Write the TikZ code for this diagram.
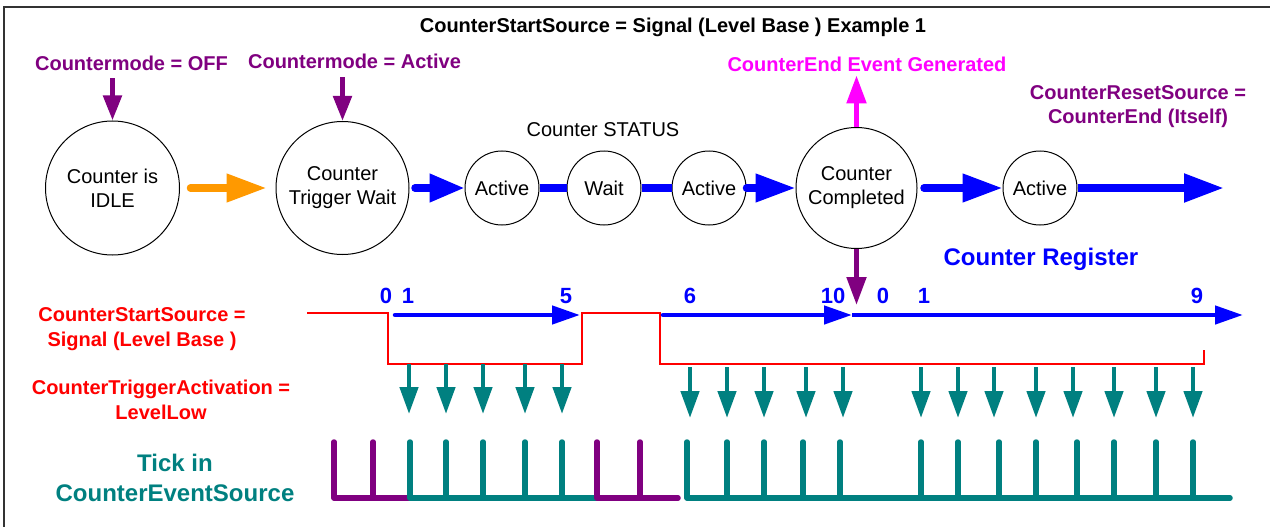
\documentclass[tikz,border=0pt]{standalone}
\usepackage{fontspec}
\setmainfont{Liberation Sans}
\usetikzlibrary{arrows.meta}
\definecolor{cpurple}{HTML}{800080}
\definecolor{cmagenta}{HTML}{FF00FF}
\definecolor{corange}{HTML}{FF9900}
\definecolor{cblue}{HTML}{0000FF}
\definecolor{cteal}{HTML}{008080}
\definecolor{cred}{HTML}{FF0000}
\begin{document}
\begin{tikzpicture}[x=1pt,y=-1pt,
  lbl/.style={font=\fontsize{20}{24.5}\selectfont\bfseries, inner sep=0pt, align=center},
  num/.style={font=\fontsize{22}{24}\selectfont\bfseries, inner sep=0pt, text=cblue, anchor=base},
  state/.style={circle, draw=black, line width=1pt, inner sep=0pt, align=center,
    font=\fontsize{20}{24}\selectfont},
  bigarrow/.style={line width=7.5pt, line cap=round, -{Triangle[length=40pt,width=27pt]}},
  bigline/.style={line width=7.5pt},
  parrow/.style={cpurple, line width=5pt, -{Triangle[length=25pt,width=18pt]}},
  marrow/.style={cmagenta, line width=5pt, -{Triangle[length=28pt,width=19pt]}},
  carrow/.style={cblue, line width=4.5pt, line cap=round, -{Triangle[length=28pt,width=18pt]}},
  tarrow/.style={cteal, line width=4.5pt, -{Triangle[length=27pt,width=18pt]}},
  tick/.style={line width=5.5pt, line cap=round, line join=round},
  sig/.style={cred, line width=2pt}
]
\useasboundingbox (0,0) rectangle (1270,527);
\fill[white] (0,0) rectangle (1270,527);
\draw[black!80, line width=1.3pt] (4,540) -- (4,7) -- (1290,7);

% title
\node[lbl, anchor=base] (title) at (673,33) {CounterStartSource = Signal (Level Base ) Example 1};

% states
\node[state, minimum size=134pt] (idle) at (112.5,188) {Counter is\\IDLE};
\node[state, minimum size=133pt] (tw) at (342.5,188) {Counter\\Trigger Wait};
\node[state, minimum size=74pt] (a1) at (502,188) {Active};
\node[state, minimum size=74pt] (w) at (604,188) {Wait};
\node[state, minimum size=74pt] (a2) at (709,188) {Active};
\node[state, minimum size=121pt] (cc) at (856.5,188) {Counter\\Completed};
\node[state, minimum size=74pt] (a3) at (1040,188) {Active};
\coordinate (endA) at (1224,188);

\node[font=\fontsize{20}{24}\selectfont, inner sep=0pt, anchor=base] (status) at (603,136) {Counter STATUS};

% connectors between states
\draw[bigarrow, corange, shorten <=10.5pt, shorten >=9pt] (idle) -- (tw);
\draw[bigarrow, cblue, -{Triangle[length=35pt,width=27pt]}, shorten <=5.5pt] (tw) -- (a1);
\draw[bigline, cblue] (a1) -- (w);
\draw[bigline, cblue] (w) -- (a2);
\draw[bigarrow, cblue] (a2) -- (cc);
\draw[bigarrow, cblue, shorten <=6.5pt] (cc) -- (a3);
\draw[bigarrow, cblue, line width=8pt, line cap=butt] (a3) -- (endA);

% top labels and arrows
\node[lbl, text=cpurple, anchor=base] (cmoff) at (131.5,71) {Countermode = OFF};
\node[lbl, text=cpurple, anchor=base] (cmact) at (354.5,69) {Countermode = Active};
\draw[parrow, shorten <=7pt] (cmoff.south -| idle.north) -- (idle.north);
\draw[parrow, shorten <=8pt] (cmact.south -| tw.north) -- (tw.north);

\node[lbl, text=cmagenta, anchor=base] (ceg) at (867,72) {CounterEnd Event Generated};
\draw[marrow, shorten >=3pt] (cc.north) -- (cc.north |- ceg.south);

\node[lbl, text=cpurple] (reset) at (1138,106.5) {CounterResetSource =\\CounterEnd (Itself)};
\coordinate (resetTip) at (856.5,305);
\draw[parrow, -{Triangle[length=28pt,width=19pt]}] (cc.south) -- (resetTip);

\node[lbl, text=cblue, font=\fontsize{24}{28}\selectfont\bfseries, anchor=base] (reg) at (1041,265) {Counter Register};

% left labels
\node[lbl, text=cred] (startsrc) at (142,329.3) {CounterStartSource =\\Signal (Level Base )};
\node[lbl, text=cred] (trigact) at (161,399.7) {CounterTriggerActivation =\\LevelLow};
\node[lbl, text=cteal, font=\fontsize{24}{30}\selectfont\bfseries] (tick) at (175,478.2) {Tick in\\CounterEventSource};

% signal
\draw[sig] (307,313) -- (387.5,313) -- (387.5,364) -- (582,364) -- (582,313) -- (660,313) -- (660,364) -- (1204,364) -- (1204,350);

% counter register arrows
\coordinate (r0) at (395,315);
\coordinate (r5) at (580,315);
\coordinate (r6) at (663,315);
\coordinate (r10) at (852,315);
\coordinate (rend) at (1243,315);
\draw[carrow] (r0) -- (r5);
\draw[carrow] (r6) -- (r10);
\draw[carrow, line cap=butt] (r10) -- (rend);

\node[num] (n0a) at (386,303) {0};
\node[num] (n1a) at (408,303) {1};
\node[num] (n5) at (566,303) {5};
\node[num] (n6) at (690,303) {6};
\node[num] (n10) at (833,303) {10};
\node[num] (n0b) at (883,303) {0};
\node[num] (n1b) at (924,303) {1};
\node[num] (n9) at (1197,303) {9};

% trigger arrows
\foreach \x in {409,446,483,525,562} {
  \draw[tarrow] (\x,364) -- (\x,414);
}
\foreach \x in {690,727,764,806,843,921,958,994,1036,1073,1114,1156,1193} {
  \draw[tarrow] (\x,367) -- (\x,418);
}

% ticks
\draw[tick, cpurple] (334,442) -- (334,498) -- (410,498);
\draw[tick, cpurple] (373,442) -- (373,498);
\draw[tick, cteal] (410,442) -- (410,498) -- (597,498);
\foreach \x in {446,483,525,562} { \draw[tick, cteal] (\x,442) -- (\x,498); }
\draw[tick, cpurple] (597,442) -- (597,498) -- (678,498);
\draw[tick, cpurple] (640,442) -- (640,498);
\draw[tick, cteal] (687,442) -- (687,498) -- (1230,498);
\foreach \x in {727,764,803,840,921,958,999,1036,1077,1114,1156,1193} { \draw[tick, cteal] (\x,442) -- (\x,498); }
\end{tikzpicture}
\end{document}
